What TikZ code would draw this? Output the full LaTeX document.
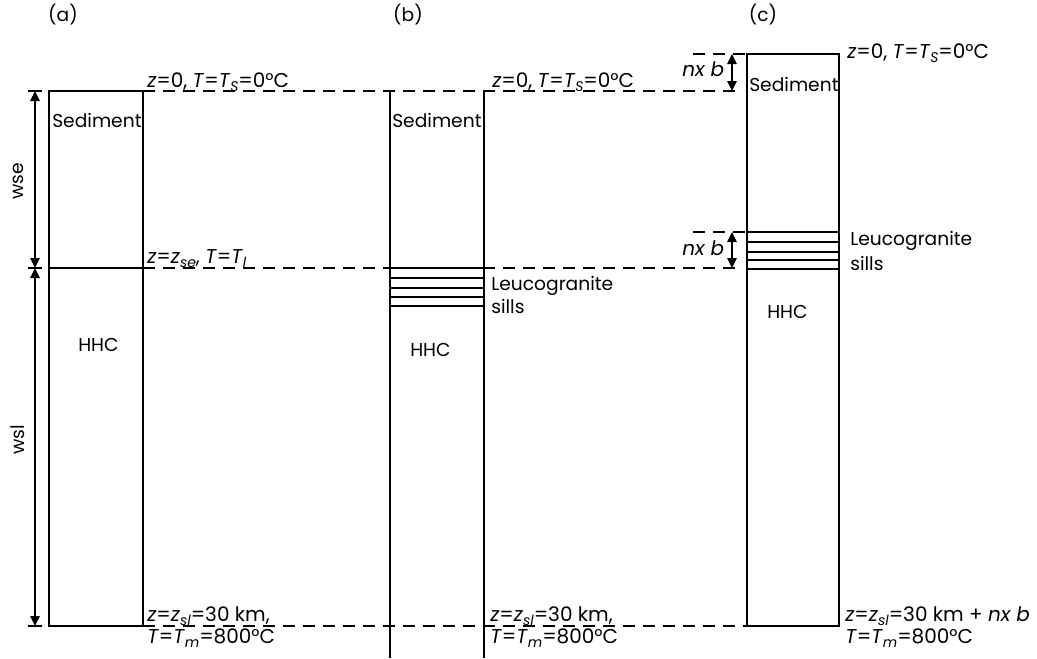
\documentclass[tikz,border=0pt]{standalone}
\usepackage{fontspec}
\setmainfont{Poppins}
\usetikzlibrary{arrows.meta}
\newcommand{\sbs}[1]{\raisebox{-0.45ex}{\fontsize{10.5}{12}\selectfont\itshape #1}}
\begin{document}
\begin{tikzpicture}[x=0.75pt,y=-0.75pt,
  lbl/.style={anchor=base west, inner sep=0pt, font=\fontsize{15}{18}\selectfont},
  unit/.style={anchor=base west, inner sep=0pt, font=\fontsize{14}{17}\selectfont},
  tag/.style={anchor=base, inner sep=0pt, font=\fontsize{14}{17}\selectfont},
  boxline/.style={line width=1.5pt},
  sill/.style={line width=1.9pt},
  levelline/.style={line width=1.1pt, dash pattern=on 9pt off 6pt},
  dimline/.style={line width=1.2pt, {Triangle[length=7.5pt,width=7pt]}-{Triangle[length=7.5pt,width=7pt]}},
  tickline/.style={line width=1.2pt}
]
\useasboundingbox (0,0) rectangle (1037,658);

% ---------------- (a) ----------------
\node[tag] (ta) at (63,21) {(a)};
\draw[boxline] (49,91) rectangle (143,626);
\draw[sill] (49,268) -- (143,268);
\coordinate (a1) at (35,91);
\coordinate (a2) at (35,268);
\coordinate (a3) at (35,626);
\draw[dimline] (a1) -- (a2);
\draw[dimline] (a2) -- (a3);
\draw[tickline] (28,91) -- (42,91);
\draw[tickline] (28,268) -- (42,268);
\draw[tickline] (28,626) -- (42,626);
\node[tag, anchor=center, rotate=90] (wse) at (18,181) {wse};
\node[tag, anchor=center, rotate=90] (wsl) at (18,440) {wsl};
\node[unit] (seda) at (52,127) {Sediment};
\node[unit] (hhca) at (78,351) {HHC};
\node[lbl] (za0) at (147,87) {\textit{z}=0, \textit{T}=\textit{T}\sbs{S}=0°C};
\node[lbl] (zase) at (147,263) {\textit{z}=\textit{z}\sbs{se}, \textit{T}=\textit{T}\sbs{l}};
\node[lbl] (zasl) at (147,621) {\textit{z}=\textit{z}\sbs{sl}=30 km,};
\node[lbl] (tam) at (147,643) {\textit{T}=\textit{T}\sbs{m}=800°C};

% ---------------- dashed levels ----------------
\draw[levelline] (143,91) -- (735,91);
\draw[levelline] (143,268) -- (735,268);
\draw[levelline] (143,626) -- (747,626);
\draw[levelline] (693,54) -- (747,54);
\draw[levelline] (693,232) -- (747,232);

% ---------------- (b) ----------------
\node[tag] (tb) at (408,21) {(b)};
\draw[boxline] (390,91) -- (390,658);
\draw[boxline] (484,91) -- (484,658);
\foreach \yy in {268,278,288,297,306} \draw[sill] (390,\yy) -- (484,\yy);
\node[unit] (sedb) at (392,127) {Sediment};
\node[unit] (hhcb) at (410,356) {HHC};
\node[unit] (leub) at (491,290) {Leucogranite};
\node[unit] (silb) at (491,313) {sills};
\node[lbl] (zb0) at (492,87) {\textit{z}=0, \textit{T}=\textit{T}\sbs{S}=0°C};
\node[lbl] (zbsl) at (490,621) {\textit{z}=\textit{z}\sbs{sl}=30 km,};
\node[lbl] (tbm) at (490,643) {\textit{T}=\textit{T}\sbs{m}=800°C};

% ---------------- (c) ----------------
\node[tag] (tc) at (763,21) {(c)};
\draw[boxline] (747,54) rectangle (839,626);
\foreach \yy in {232,242,252,260,269} \draw[sill] (747,\yy) -- (839,\yy);
\coordinate (c1) at (732,54);
\coordinate (c2) at (732,91);
\coordinate (c3) at (732,232);
\coordinate (c4) at (732,268);
\draw[dimline] (c1) -- (c2);
\draw[dimline] (c3) -- (c4);
\node[lbl, font=\fontsize{15}{18}\selectfont\itshape] (nxb1) at (682,76) {nx b};
\node[lbl, font=\fontsize{15}{18}\selectfont\itshape] (nxb2) at (682,255) {nx b};
\node[unit] (sedc) at (749,91) {Sediment};
\node[unit] (hhcc) at (767,318) {HHC};
\node[unit] (leuc) at (850,245) {Leucogranite};
\node[unit] (silc) at (850,270) {sills};
\node[lbl] (zc0) at (847,58) {\textit{z}=0, \textit{T}=\textit{T}\sbs{S}=0°C};
\node[lbl] (zcsl) at (845,621) {\textit{z}=\textit{z}\sbs{sl}=30 km + \textit{nx b}};
\node[lbl] (tcm) at (845,643) {\textit{T}=\textit{T}\sbs{m}=800°C};
\end{tikzpicture}
\end{document}
